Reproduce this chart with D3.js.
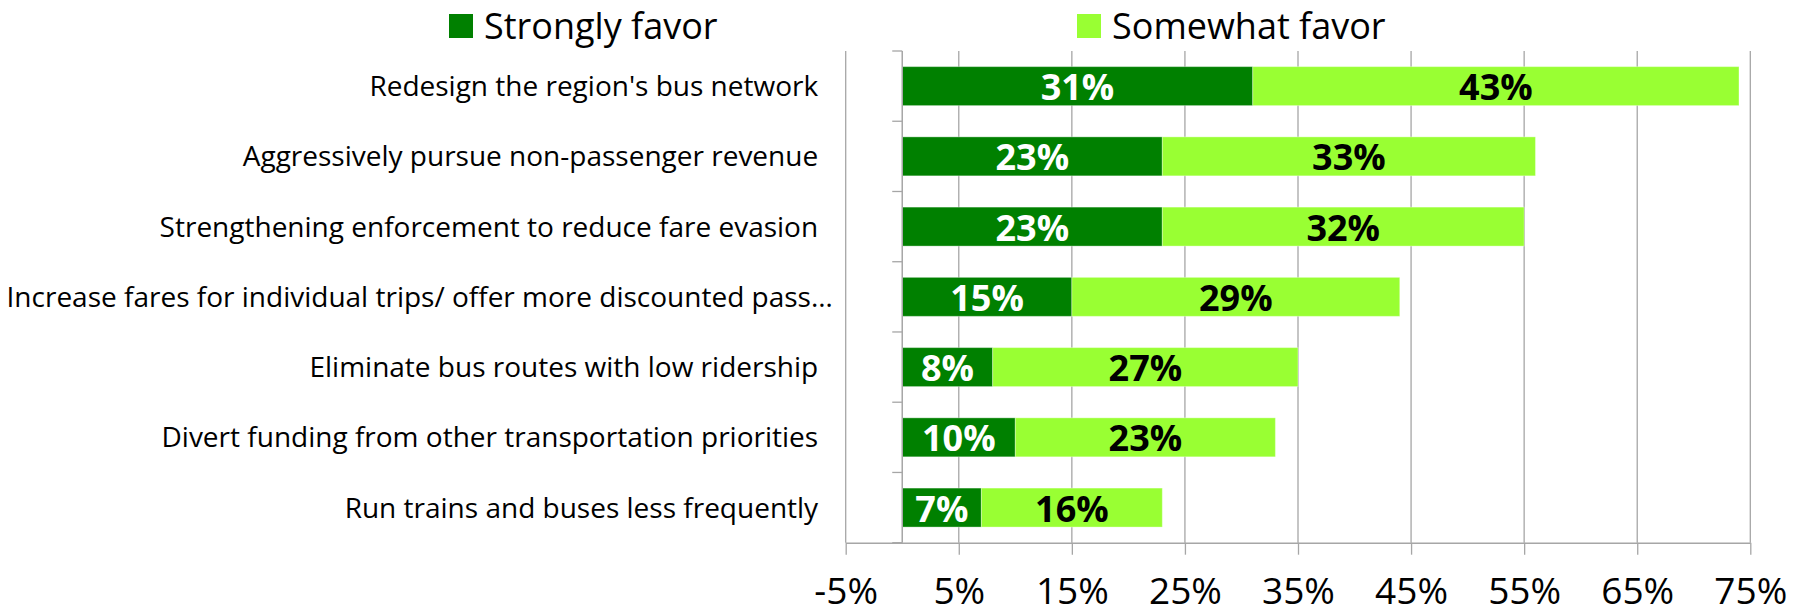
<!DOCTYPE html>
<meta charset="utf-8">
<head>
  <title>Favor ratings</title>
  <style>
    body { margin: 0; background: #fff; }
    text { font-family: "Open Sans", sans-serif; }
  </style>
</head>
<body>
  <div id="chart"></div>
  <script src="https://d3js.org/d3.v7.min.js"></script>
  <script>

    // data
    var categories = [
      "Redesign the region's bus network  ",
      "Aggressively pursue non-passenger revenue  ",
      "Strengthening enforcement to reduce fare evasion  ",
      "Increase fares for individual trips/ offer more discounted pass\u2026",
      "Eliminate bus routes with low ridership  ",
      "Divert funding from other transportation priorities  ",
      "Run trains and buses less frequently  "
    ];
    var strongly = [31, 23, 23, 15, 8, 10, 7];
    var somewhat = [43, 33, 32, 29, 27, 23, 16];
    var xTicks = [-5, 5, 15, 25, 35, 45, 55, 65, 75];
    var seriesNames = ["Strongly favor", "Somewhat favor"];
    var seriesColors = ["#008000", "#99ff33"];

    // dimensions
    var margin = {top: 51, right: 45.7, bottom: 72.3, left: 845.7},
        width = 1796 - margin.left - margin.right,
        height = 615 - margin.top - margin.bottom;

    var svg = d3.select("#chart")
      .append("svg")
        .attr("width", 1796)
        .attr("height", 615)
      .append("g")
        .attr("transform", "translate(" + margin.left + "," + margin.top + ")");

    var x = d3.scaleLinear()
      .domain([-5, 75])
      .range([0, width]);

    var y = d3.scaleBand()
      .domain(categories)
      .range([0, height])
      .paddingInner(0.445)
      .paddingOuter(0.2225);

    // vertical gridlines
    svg.append("g")
      .selectAll("line")
      .data(xTicks)
      .enter()
      .append("line")
        .attr("x1", function(d) { return x(d); })
        .attr("x2", function(d) { return x(d); })
        .attr("y1", 0)
        .attr("y2", height)
        .attr("stroke", "#a6a6a6")
        .attr("stroke-width", 1.3);

    // x axis
    var xAxis = svg.append("g")
      .attr("transform", "translate(0," + height + ")")
      .call(d3.axisBottom(x).tickValues(xTicks).tickSize(12).tickPadding(23)
        .tickSizeOuter(0)
        .tickFormat(function(d) { return d + "%"; }));
    xAxis.select(".domain").attr("stroke", "#a6a6a6").attr("stroke-width", 1.5);
    xAxis.selectAll(".tick line").attr("stroke", "#a6a6a6").attr("stroke-width", 1.3);
    xAxis.selectAll(".tick text")
      .attr("fill", "#000")
      .style("font-size", "37px")
      .style("font-family", "'Open Sans', sans-serif");

    // stacked bars
    var rows = categories.map(function(c, i) {
      return [
        {cat: c, x0: 0, x1: strongly[i], v: strongly[i], s: 0},
        {cat: c, x0: strongly[i], x1: strongly[i] + somewhat[i], v: somewhat[i], s: 1}
      ];
    });
    var segs = [].concat.apply([], rows);

    svg.selectAll("rect.bar")
      .data(segs)
      .enter()
      .append("rect")
        .attr("class", "bar")
        .attr("x", function(d) { return x(d.x0); })
        .attr("y", function(d) { return y(d.cat); })
        .attr("width", function(d) { return x(d.x1) - x(d.x0); })
        .attr("height", y.bandwidth())
        .attr("fill", function(d) { return seriesColors[d.s]; })
        .attr("stroke", "rgba(255,255,255,0.35)")
        .attr("stroke-width", 1);

    // data labels
    svg.selectAll("text.val")
      .data(segs)
      .enter()
      .append("text")
        .attr("class", "val")
        .attr("x", function(d) { return (x(d.x0) + x(d.x1)) / 2; })
        .attr("y", function(d) { return y(d.cat) + y.bandwidth() / 2 + 14; })
        .attr("text-anchor", "middle")
        .attr("fill", function(d) { return d.s === 0 ? "#fff" : "#000"; })
        .style("font-size", "36px")
        .style("font-weight", "bold")
        .text(function(d) { return d.v + "%"; });

    // y axis at zero with ticks on the band edges
    var yAxis = svg.append("g").attr("transform", "translate(" + x(0) + ",0)");
    yAxis.append("line")
      .attr("y1", 0).attr("y2", height)
      .attr("stroke", "#a6a6a6").attr("stroke-width", 1.5);
    yAxis.selectAll("line.edge")
      .data(d3.range(categories.length + 1))
      .enter()
      .append("line")
        .attr("class", "edge")
        .attr("x1", -10).attr("x2", 0)
        .attr("y1", function(i) { return i * y.step(); })
        .attr("y2", function(i) { return i * y.step(); })
        .attr("stroke", "#a6a6a6").attr("stroke-width", 1.3);

    // category labels
    svg.selectAll("text.cat")
      .data(categories)
      .enter()
      .append("text")
        .attr("class", "cat")
        .attr("x", -13)
        .attr("y", function(d) { return y(d) + y.bandwidth() / 2 + 10; })
        .attr("text-anchor", "end")
        .style("white-space", "pre")
        .style("font-size", "28px")
        .attr("fill", "#000")
        .text(function(d) { return d; });

    // legend
    var legendX = [449, 1077];
    var legend = d3.select("svg").append("g");
    seriesNames.forEach(function(name, i) {
      legend.append("rect")
        .attr("x", legendX[i]).attr("y", 14)
        .attr("width", 24).attr("height", 24)
        .attr("fill", seriesColors[i]);
      legend.append("text")
        .attr("x", legendX[i] + 35).attr("y", 39)
        .style("font-size", "36px")
        .attr("fill", "#000")
        .text(name);
    });

  </script>
</body>
